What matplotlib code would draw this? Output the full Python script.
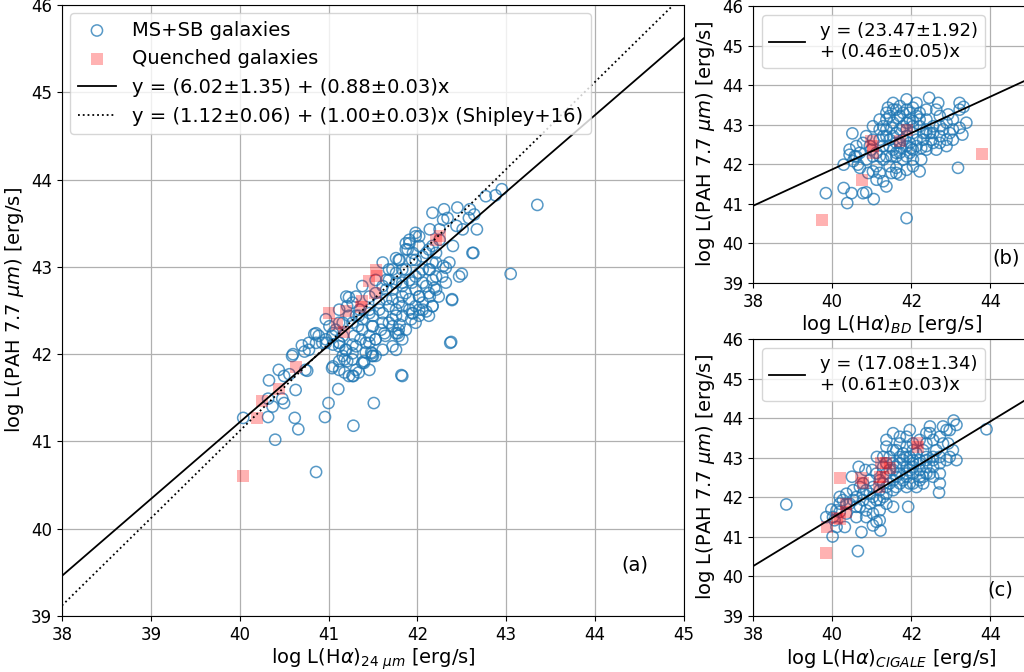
import numpy as np
import matplotlib
matplotlib.use("Agg")
import matplotlib.pyplot as plt

# ---------------- Panel (a): L(Halpha)_24um vs L(PAH 7.7) ----------------
a_ms_x = [43.35, 43.05, 42.38, 42.39, 42.63, 42.50, 42.67, 42.95, 42.77, 42.88,
          42.59, 42.64, 42.58, 42.45, 42.30, 42.17, 42.34, 42.51, 42.40, 42.32,
          41.82, 41.51, 41.28, 40.96, 41.00, 41.11, 40.86, 40.66, 40.62, 40.40,
          40.32, 40.04, 40.37, 40.50, 40.48, 40.32, 40.63, 40.33, 40.44, 40.56,
          40.60, 40.70, 40.78, 40.86, 40.84, 40.76, 41.05, 41.12, 41.21, 41.18,
          41.28, 41.31, 41.40, 41.48, 41.50,
          41.05, 41.12, 41.20, 41.27, 41.36, 41.46, 41.53, 41.63, 41.78, 41.80,
          41.68, 41.93, 42.02, 42.10, 42.17, 41.98, 41.83, 41.76, 41.59, 41.50,
          41.33, 41.29, 41.16, 41.08, 40.78, 41.01, 41.23, 41.38, 41.61, 41.76,
          41.87, 41.98, 42.14, 41.89, 41.95, 41.68, 41.53, 41.46, 41.31, 41.21,
          41.12, 41.23, 41.35, 41.46, 41.57, 41.65, 41.76, 41.83, 41.98, 42.06,
          42.17, 42.21, 42.10, 41.98, 41.87, 41.91, 42.14, 42.06, 41.83, 41.72,
          41.61, 41.50, 41.38, 40.89, 40.97, 40.73, 40.59, 40.50, 40.74, 40.97,
          41.05, 41.12, 41.20, 41.27, 41.53, 41.65, 41.72, 41.80, 41.91, 42.02,
          42.25, 42.29, 42.25, 42.44, 42.17, 42.10, 42.21, 42.14, 42.29, 41.98,
          41.83, 41.65, 41.76, 41.91, 42.02, 42.19, 41.95, 41.72, 41.46, 41.42,
          41.53, 41.16, 41.31, 41.04, 41.18, 41.27, 41.40, 41.49, 41.27, 41.12,
          40.86, 40.93,
          41.98, 41.91, 42.02, 41.87, 41.79, 41.94, 42.06, 42.13, 42.21, 42.13,
          42.02, 41.87, 41.76, 41.68, 41.61, 41.72, 41.83, 41.94, 42.06, 42.17,
          42.28, 42.36, 42.24, 42.13, 42.02, 41.91, 41.79, 41.68, 41.57, 41.46,
          41.34, 41.27, 41.38, 41.49, 41.61, 41.72, 41.83, 41.94, 42.06, 42.17,
          41.98, 41.87, 41.76, 41.64, 41.53, 41.42, 41.31, 41.19, 41.12, 41.04,
          40.97, 41.16, 41.27, 41.38, 41.49, 41.61, 41.72, 41.83, 41.79, 41.76,
          41.12, 41.23, 41.34, 41.46, 41.79, 42.02, 42.13, 42.21, 42.32, 42.47,
          42.39, 42.62, 41.83, 42.37]
a_ms_y = [43.71, 42.92, 42.14, 42.62, 43.16, 42.92, 43.43, 43.89, 43.81, 43.82,
          43.66, 43.60, 43.56, 43.68, 43.66, 43.62, 43.56, 43.43, 43.24, 42.99,
          41.76, 41.44, 41.18, 41.28, 41.44, 41.60, 40.65, 41.14, 41.27, 41.02,
          41.28, 41.27, 41.40, 41.44, 41.49, 41.49, 41.59, 41.70, 41.82, 41.77,
          42.00, 42.10, 42.05, 42.13, 42.23, 41.81, 41.86, 41.92, 41.92, 41.79,
          41.75, 41.82, 41.90, 42.02, 41.98,
          42.11, 42.13, 42.05, 42.11, 42.17, 42.21, 42.17, 42.24, 42.24, 42.34,
          42.36, 42.40, 42.44, 42.49, 42.55, 42.55, 42.55, 42.51, 42.28, 42.32,
          42.32, 42.21, 42.21, 42.28, 42.13, 42.32, 42.65, 42.78, 43.05, 43.10,
          43.27, 43.39, 43.43, 43.20, 43.16, 42.97, 42.85, 42.66, 42.66, 42.55,
          42.51, 42.44, 42.51, 42.51, 42.59, 42.74, 42.82, 42.97, 43.08, 42.97,
          43.05, 42.89, 42.78, 42.74, 42.70, 42.85, 42.66, 42.59, 42.66, 42.63,
          42.47, 42.44, 42.40, 42.21, 42.13, 42.03, 41.98, 41.75, 41.82, 42.40,
          42.24, 42.36, 42.66, 42.59, 42.70, 42.85, 42.97, 43.08, 43.31, 43.35,
          43.31, 43.54, 43.43, 43.47, 43.24, 43.16, 43.16, 42.97, 43.01, 42.89,
          42.82, 42.63, 42.44, 42.51, 42.66, 42.76, 42.47, 42.32, 42.13, 42.02,
          41.98, 42.36, 42.44, 41.84, 41.94, 42.01, 41.92, 42.01, 41.75, 42.09,
          42.24, 42.13,
          43.35, 43.27, 43.24, 43.20, 43.08, 43.08, 43.12, 43.20, 43.05, 42.97,
          42.93, 42.97, 42.93, 42.85, 42.78, 42.74, 42.78, 42.82, 42.82, 42.85,
          42.89, 43.05, 42.66, 42.70, 42.66, 42.63, 42.59, 42.55, 42.51, 42.47,
          42.44, 42.36, 42.28, 42.32, 42.36, 42.40, 42.44, 42.47, 42.51, 42.55,
          42.36, 42.28, 42.24, 42.21, 42.17, 42.13, 42.09, 42.05, 42.13, 42.21,
          42.17, 41.98, 41.94, 41.90, 41.98, 42.05, 42.09, 42.17, 42.28, 42.05,
          41.82, 41.75, 41.79, 41.82, 42.21, 42.51, 42.44, 42.74, 42.82, 42.89,
          42.63, 43.16, 41.75, 42.13]
a_q_x = [40.04, 40.20, 40.25, 40.44, 40.63, 41.00, 41.20, 41.09, 41.17, 41.36,
         41.38, 41.46, 41.53, 41.55, 41.52, 42.25, 42.21]
a_q_y = [40.60, 41.27, 41.46, 41.60, 41.85, 42.47, 42.50, 42.35, 42.25, 42.54,
         42.61, 42.84, 42.97, 42.89, 42.70, 43.35, 43.31]

# fits (intercept, slope)
fit_a = (6.02, 0.88)
fit_shipley = (1.12, 1.00)

# ---------------- Panel (b): L(Halpha)_BD ----------------
b_ms_x = [39.84, 40.29, 40.38, 40.49, 40.78, 40.86, 41.05, 41.88, 40.51, 40.29,
          40.44, 40.57, 40.65, 40.53, 40.70, 40.91, 41.03, 41.12, 41.20, 41.37,
          41.29, 41.50, 41.62, 41.71,
          41.03, 41.20, 41.37, 41.54, 41.71, 41.88, 42.04, 42.21, 41.96, 41.79,
          41.62, 41.45, 41.29, 41.12, 41.37, 41.54, 41.71, 41.88, 42.04, 42.21,
          42.38, 42.47, 42.30, 42.13, 41.96, 41.79, 42.25, 42.55, 42.72, 42.80,
          42.55, 42.89, 42.72, 43.05, 43.22, 43.05, 42.89, 42.63, 41.54, 41.37,
          41.20, 40.95, 40.86, 40.78, 40.70, 40.99, 41.50, 41.66, 41.88, 42.45,
          42.68, 42.93, 43.22, 43.32, 43.39, 43.22, 43.29, 43.18, 42.21, 41.62,
          41.88, 41.29, 41.12, 41.45, 41.62, 42.04, 42.38, 42.72, 42.97, 40.61,
          40.44, 41.45, 41.71, 42.13, 42.38, 41.88, 41.29, 41.03, 42.04, 41.71,
          42.38, 42.63, 42.04,
          41.20, 41.37, 41.54, 41.71, 41.88, 42.04, 42.21, 42.38, 41.62, 41.79,
          41.96, 42.13, 41.45, 41.62, 41.88, 41.29, 41.54, 42.30, 42.55, 42.38,
          41.96, 41.79, 42.13, 41.62, 41.37, 41.20, 41.50, 41.75, 42.00, 42.25,
          42.51, 42.72, 42.89, 43.05, 41.41, 41.88, 42.04, 41.03, 40.86, 40.61]
b_ms_y = [41.27, 41.40, 41.02, 41.27, 41.27, 41.29, 41.12, 40.64, 42.78, 41.99,
          42.24, 42.20, 41.99, 42.08, 41.91, 41.78, 41.82, 41.61, 41.78, 41.44,
          41.57, 41.78, 41.91, 41.74,
          42.96, 42.88, 43.30, 43.38, 43.47, 43.38, 43.43, 43.30, 43.13, 42.96,
          42.79, 42.62, 42.46, 42.29, 42.20, 42.37, 42.54, 42.71, 42.79, 42.96,
          43.13, 42.79, 42.62, 42.46, 42.29, 42.12, 42.12, 42.54, 42.71, 42.88,
          42.96, 43.05, 43.22, 43.13, 43.38, 42.62, 42.46, 42.37, 43.55, 43.13,
          42.62, 42.46, 42.71, 42.54, 42.29, 42.37, 42.92, 43.17, 43.64, 43.68,
          43.55, 43.26, 43.55, 43.45, 43.05, 42.92, 42.75, 41.91, 41.82, 42.20,
          42.46, 42.12, 41.95, 41.95, 41.78, 42.12, 42.46, 42.54, 42.79, 42.46,
          42.37, 43.22, 43.22, 43.22, 43.38, 43.05, 42.96, 42.62, 42.37, 42.29,
          42.79, 43.38, 43.09,
          43.13, 42.88, 43.05, 42.88, 42.88, 42.96, 43.13, 42.88, 42.54, 42.62,
          42.54, 42.62, 42.46, 42.29, 42.20, 42.71, 42.71, 42.79, 42.79, 42.37,
          43.30, 43.30, 43.55, 43.38, 42.71, 42.20, 42.20, 42.41, 42.41, 42.41,
          42.62, 42.96, 42.62, 42.88, 43.43, 41.86, 41.95, 42.20, 42.12, 42.20]
b_q_x = [39.74, 40.76, 41.02, 41.03, 40.99, 41.71, 41.88, 43.79]
b_q_y = [40.60, 41.61, 42.46, 42.29, 42.58, 42.58, 42.86, 42.26]
fit_b = (23.47, 0.46)

# ---------------- Panel (c): L(Halpha)_CIGALE ----------------
c_ms_x = [38.84, 39.98, 40.01, 40.11, 39.85, 40.06, 40.32, 40.65, 40.74, 41.03,
          41.12, 41.22, 41.20, 41.92, 42.70, 43.90, 43.07, 43.14, 42.97, 42.80,
          42.93, 43.05, 43.14, 42.97, 42.72, 42.55, 42.47, 42.47, 41.96, 41.54,
          41.13, 40.50, 40.67, 40.84, 41.01,
          40.19, 40.36, 40.53, 40.70, 40.44, 40.61, 40.78, 40.95, 41.12, 41.29,
          41.37, 41.54, 41.71, 41.88, 42.04, 42.21, 42.38, 42.04, 41.88, 41.71,
          41.62, 41.45, 41.29, 41.12, 40.95, 40.78, 41.45, 41.62, 41.79, 41.96,
          42.13, 42.30, 41.88, 42.04, 42.21, 42.38, 41.71, 41.54, 41.37, 41.54,
          41.20, 41.03, 40.86, 40.61, 40.36, 40.19, 40.11, 42.30, 42.47, 42.55,
          42.04, 42.63, 42.80, 42.38, 42.21, 41.88, 41.29, 41.20, 41.03, 40.95,
          41.29, 41.62, 41.88, 42.21, 41.96, 41.79, 41.54, 41.37, 40.27, 40.61,
          40.86,
          41.37, 41.54, 41.71, 41.88, 42.04, 42.21, 42.38, 42.55, 42.72, 42.89,
          41.71, 41.54, 41.37, 41.88, 42.04, 42.21, 42.38, 42.55, 42.72, 41.62,
          41.79, 41.96, 42.13, 42.30, 41.45, 41.20, 41.03, 41.20, 41.37, 40.78,
          40.53, 40.70, 40.86, 40.36, 40.19, 40.02, 42.72, 42.89, 42.55, 42.04,
          41.71, 41.37, 42.38, 42.72]
c_ms_y = [41.82, 41.69, 41.01, 41.25, 41.50, 41.42, 41.25, 40.64, 41.12, 41.29,
          41.38, 41.16, 41.42, 41.76, 42.12, 43.72, 43.94, 43.83, 43.70, 43.79,
          43.36, 43.19, 42.94, 43.02, 43.02, 43.02, 43.79, 43.62, 43.70, 43.62,
          43.02, 42.52, 42.77, 42.69, 42.69,
          42.01, 42.09, 42.18, 42.26, 41.84, 41.76, 41.93, 41.84, 41.93, 42.01,
          42.26, 42.43, 42.60, 42.77, 42.86, 42.94, 43.02, 43.19, 43.28, 43.36,
          43.19, 43.02, 42.77, 42.60, 42.43, 42.35, 42.69, 42.77, 42.94, 43.02,
          43.11, 43.19, 42.52, 42.60, 42.69, 42.77, 42.35, 42.18, 41.84, 41.76,
          41.67, 41.59, 41.67, 41.50, 41.59, 41.84, 41.67, 42.52, 42.60, 42.77,
          42.35, 43.19, 43.36, 43.36, 43.45, 43.53, 43.02, 42.43, 42.26, 42.09,
          42.35, 42.52, 42.26, 42.43, 42.69, 43.11, 42.86, 42.60, 41.93, 42.01,
          42.18,
          42.86, 42.69, 42.86, 43.02, 42.94, 42.86, 42.94, 42.94, 42.86, 42.94,
          43.02, 43.19, 43.28, 42.60, 42.77, 42.52, 42.60, 42.52, 42.60, 42.26,
          42.43, 42.35, 42.26, 42.35, 42.35, 42.18, 42.01, 41.93, 42.09, 42.09,
          41.93, 41.76, 41.50, 41.84, 41.63, 41.50, 43.53, 43.70, 43.45, 43.36,
          43.53, 43.45, 43.62, 42.35]
c_q_x = [39.85, 39.87, 40.12, 40.19, 40.34, 40.36, 40.19, 40.74, 40.78, 41.20,
         41.29, 41.18, 41.24, 41.37, 41.45, 42.15, 42.17]
c_q_y = [40.59, 41.25, 41.48, 41.46, 41.63, 41.84, 42.48, 42.48, 42.35, 42.52,
         42.52, 42.26, 42.86, 42.86, 42.73, 43.36, 43.28]
fit_c = (17.08, 0.61)

fit_labels = {
    "a": "y = (6.02±1.35) + (0.88±0.03)x",
    "shipley": "y = (1.12±0.06) + (1.00±0.03)x (Shipley+16)",
    "b": "y = (23.47±1.92)\n+ (0.46±0.05)x",
    "c": "y = (17.08±1.34)\n+ (0.61±0.03)x",
}

ylabel = r"log L(PAH 7.7 $\mu m$) [erg/s]"
xlabels = {
    "a": r"log L(H$\alpha$)$_{24\ \mu m}$ [erg/s]",
    "b": r"log L(H$\alpha$)$_{BD}$ [erg/s]",
    "c": r"log L(H$\alpha$)$_{CIGALE}$ [erg/s]",
}

BLUE = "#1f77b4"

fig = plt.figure(figsize=(10.24, 6.72), dpi=100)
ax_a = fig.add_axes([0.0605, 0.0833, 0.6074, 0.9092])
ax_b = fig.add_axes([0.7354, 0.5789, 0.2705, 0.4122])
ax_c = fig.add_axes([0.7354, 0.0833, 0.2705, 0.4122])

xx = np.array([38.0, 45.0])

def panel(ax, msx, msy, qx, qy, fit, flabel, xlabel, tag, tagpos, small):
    ax.grid(True, color="#b0b0b0", linewidth=0.9, zorder=0)
    ax.set_axisbelow(True)
    ax.scatter(msx, msy, s=65, facecolors="none", edgecolors=BLUE,
               linewidths=1.1, alpha=0.75, zorder=2, label="MS+SB galaxies")
    ax.scatter(qx, qy, s=75, marker="s", color="red", alpha=0.3,
               linewidths=0, zorder=3, label="Quenched galaxies")
    ax.plot(xx, fit[0] + fit[1] * xx, color="black", lw=1.3, zorder=4,
            label=flabel)
    ax.set_xlim(38, 45)
    ax.set_ylim(39, 46)
    ax.set_yticks(range(39, 47))
    if small:
        ax.set_xticks([38, 40, 42, 44])
    else:
        ax.set_xticks(range(38, 46))
    ax.tick_params(labelsize=12)
    ax.set_xlabel(xlabel, fontsize=14, labelpad=2)
    ax.set_ylabel(ylabel, fontsize=14, labelpad=4)
    ax.text(tagpos[0], tagpos[1], tag, fontsize=14, ha="center", va="center")

panel(ax_a, a_ms_x, a_ms_y, a_q_x, a_q_y, fit_a, fit_labels["a"],
      xlabels["a"], "(a)", (44.45, 39.59), False)
ax_a.plot(xx, fit_shipley[0] + fit_shipley[1] * xx, color="black", lw=1.3,
          linestyle=":", zorder=4, label=fit_labels["shipley"])
ax_a.legend(loc="upper left", fontsize=14, scatterpoints=1,
            bbox_to_anchor=(0.0, 1.0), borderaxespad=0.4)

panel(ax_b, b_ms_x, b_ms_y, b_q_x, b_q_y, fit_b, fit_labels["b"],
      xlabels["b"], "(b)", (44.4, 39.62), True)
hb, lb = ax_b.get_legend_handles_labels()
ax_b.legend([hb[2]], [lb[2]], loc="upper left", fontsize=13)

panel(ax_c, c_ms_x, c_ms_y, c_q_x, c_q_y, fit_c, fit_labels["c"],
      xlabels["c"], "(c)", (44.24, 39.65), True)
hc, lc = ax_c.get_legend_handles_labels()
ax_c.legend([hc[2]], [lc[2]], loc="upper left", fontsize=13)

fig.savefig("out.png", dpi=100)
